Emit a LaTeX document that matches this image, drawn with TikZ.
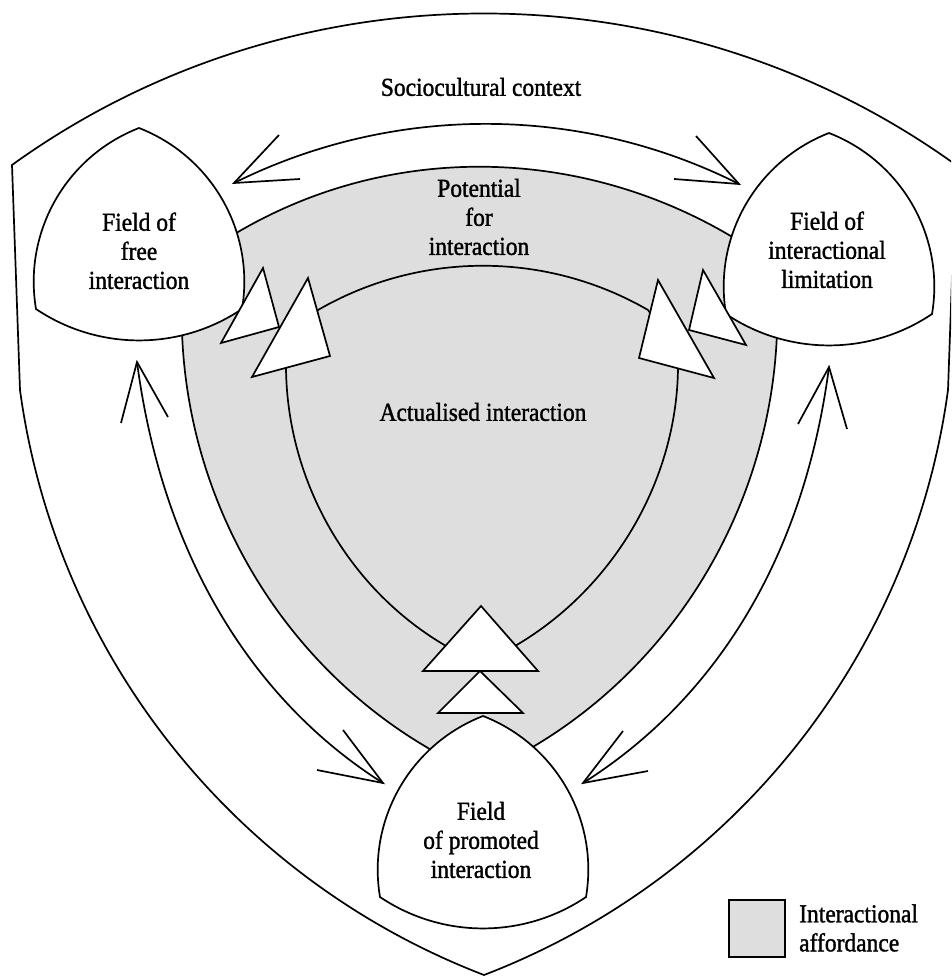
\documentclass[tikz,border=0pt]{standalone}
\usepackage{fontspec}
\usepackage{graphicx}
\setmainfont{Liberation Serif}
\newfontfamily\lblfont{Liberation Serif}[FakeBold=1.4]
\definecolor{affgray}{gray}{0.87}
\newcommand{\fielddraw}[2]{%
  \draw[ln,fill=white] (#1,#2)
   .. controls (#1-72.9,#2+28.4) and (#1-116,#2+103.9) .. (#1-103,#2+181)
   .. controls (#1-40.8,#2+222.9) and (#1+40.8,#2+222.9) .. (#1+103,#2+181)
   .. controls (#1+116,#2+103.9) and (#1+72.9,#2+28.4) .. (#1,#2) -- cycle;}
\newcommand{\lbc}[1]{\scalebox{1}[1.1]{\begin{tabular}{@{}c@{}}#1\end{tabular}}}
\newcommand{\lbl}[1]{\scalebox{1}[1.1]{\begin{tabular}{@{}l@{}}#1\end{tabular}}}
\begin{document}
\begin{tikzpicture}[x=1pt,y=-1pt,
  ln/.style={line width=1.7pt, line join=miter},
  lbl/.style={font=\lblfont\fontsize{23.5}{26.4}\selectfont, inner sep=0pt},
  tri/.style={ln, fill=white}]
\useasboundingbox (0,0) rectangle (951,976);
\clip (0,0) rectangle (951,976);
% outer context boundary
\draw[ln] (12,165) .. controls (292,-37) and (676,-37) .. (956,165)
  -- (948,390) .. controls (912,655) and (734,879) .. (484,975)
  .. controls (234,879) and (56,655) .. (20,390) -- cycle;
% interactional affordance (grey region)
\draw[ln, fill=affgray] (220,245) -- (238,232) .. controls (390,143) and (577,146) .. (729,235)
  -- (745,245) -- (777,332) .. controls (771,503) and (678,662) .. (531,748)
  -- (483,790) -- (428,748) .. controls (281,662) and (188,503) .. (182,332) -- cycle;
% actualised interaction boundary
\draw[ln] (318,310) .. controls (420,251) and (546,251) .. (648,310) -- (666,335) -- (678,362)
  .. controls (679,476) and (616,587) .. (515,646) -- (500,652) -- (481,660) -- (462,652)
  -- (446,646) .. controls (345,587) and (285,476) .. (286,362) -- (300,335) -- cycle;
% top double arrow
\draw[ln] (234,183) .. controls (393,104) and (580,104) .. (739,184);
\draw[ln] (279,135) -- (234,183) -- (300,179);
\draw[ln] (696,136) -- (739,184) -- (674,179);
% left double arrow
\draw[ln] (137,362) .. controls (163,560) and (256,703) .. (383,783);
\draw[ln] (121,423) -- (137,362) -- (168,417);
\draw[ln] (343,730) -- (383,783) -- (317,770);
% right double arrow
\draw[ln] (829,367) .. controls (803,565) and (710,703) .. (583,783);
\draw[ln] (798,424) -- (829,367) -- (847,429);
\draw[ln] (623,731) -- (583,783) -- (648,771);
% fields
\fielddraw{139}{128}
\fielddraw{829}{133}
\fielddraw{483}{716}
% triangles
\draw[tri] (263,268) -- (221,343) -- (279,327) -- cycle;
\draw[tri] (308,278) -- (252,377) -- (330,356) -- cycle;
\draw[tri] (703,270) -- (746,345) -- (689,330) -- cycle;
\draw[tri] (658,280) -- (714,378) -- (639,358) -- cycle;
\draw[tri] (481,606) -- (423,671) -- (538,671) -- cycle;
\draw[tri] (480,671) -- (438,713) -- (523,713) -- cycle;
% labels
\node[lbl] (soc) at (481,90) {\lbc{Sociocultural context}};
\node[lbl] (pot) at (479,220) {\lbc{Potential\\for\\interaction}};
\node[lbl] (act) at (483,415) {\lbc{Actualised interaction}};
\node[lbl] (free) at (139,254) {\lbc{Field of\\free\\interaction}};
\node[lbl] (lim) at (827,253) {\lbc{Field of\\interactional\\limitation}};
\node[lbl] (prom) at (481,843) {\lbc{Field\\of promoted\\interaction}};
% legend
\draw[line width=2.5pt, fill=affgray] (729,900) rectangle (785,957);
\node[lbl, anchor=west] (leg) at (799,931) {\lbl{Interactional\\affordance}};
\end{tikzpicture}
\end{document}
